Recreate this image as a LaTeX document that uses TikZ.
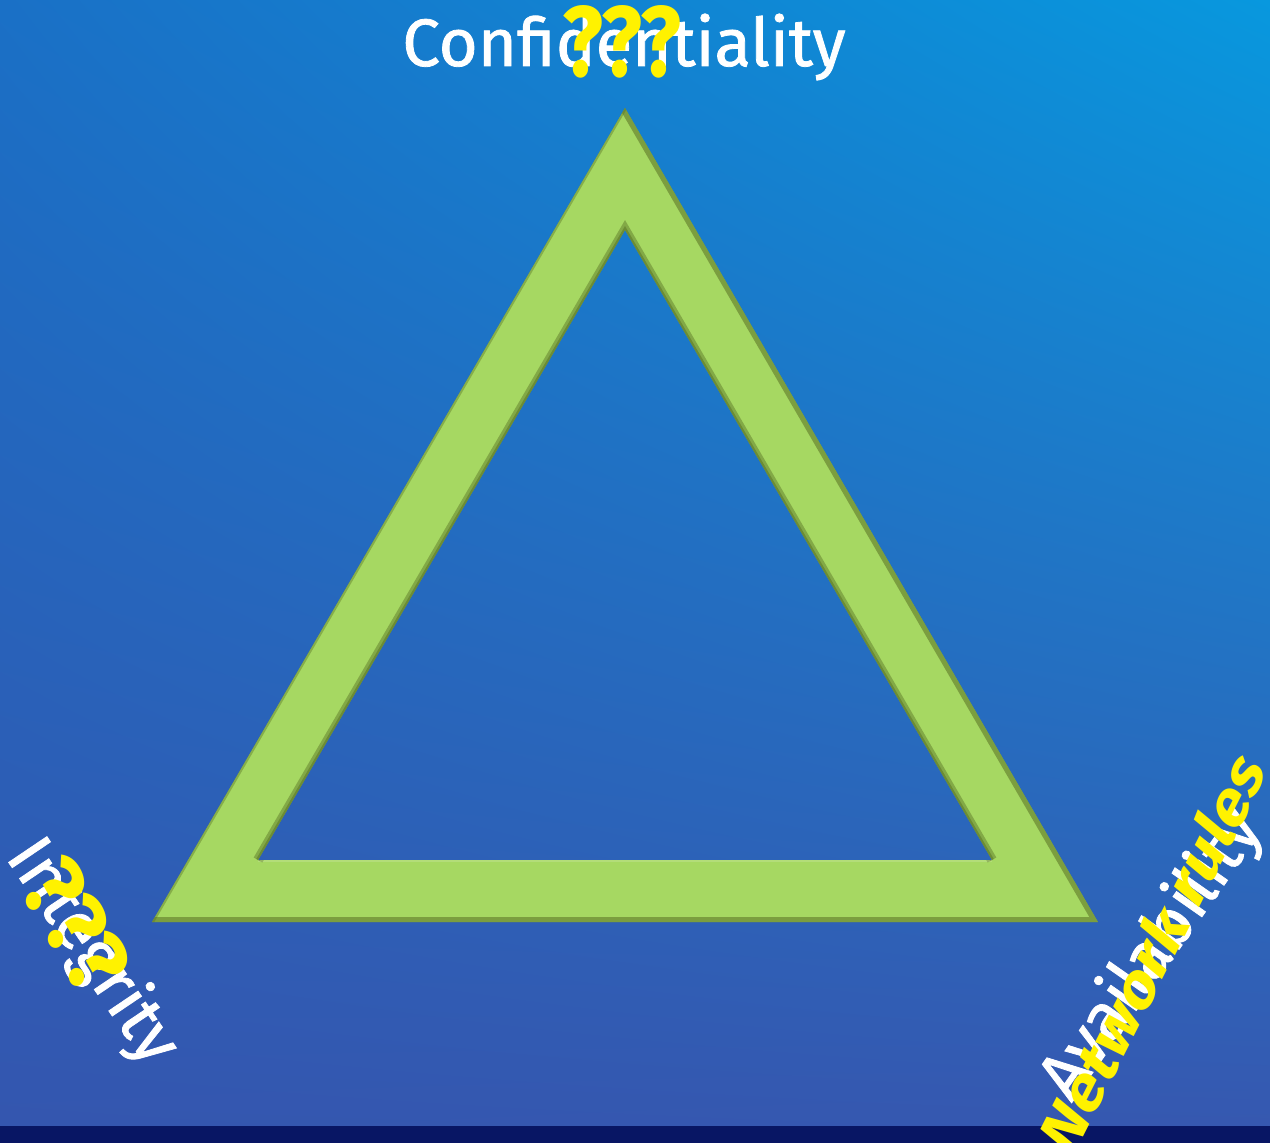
\documentclass[tikz,border=0pt]{standalone}
\usepackage{fontspec}
\setmainfont{Fira Sans}
\newfontfamily\labelfont[FakeBold=1.2]{Fira Sans}
\usetikzlibrary{shadings}
\begin{document}
\begin{tikzpicture}[x=1pt,y=-1pt,
  whitelabel/.style={text=white,font=\fontsize{67}{67}\labelfont,inner sep=0pt},
  yellowlabel/.style={text=yellow,font=\fontsize{100}{100}\selectfont\bfseries,inner sep=0pt}]
\definecolor{ringgreen}{RGB}{166,216,98}
\definecolor{ringdark}{RGB}{88,112,36}
\definecolor{navy}{RGB}{8,22,100}
\definecolor{bgul}{RGB}{26,112,198}
\definecolor{bgur}{RGB}{8,152,222}
\definecolor{bgll}{RGB}{52,86,175}
\definecolor{bglr}{RGB}{54,88,176}
\useasboundingbox (0,0) rectangle (1270,1143);
% background
\shade[upper left=bgul,upper right=bgur,lower left=bgll,lower right=bglr]
  (0,0) rectangle (1270,1126);
\fill[navy] (0,1126) rectangle (1270,1143);
% triangle corners
\coordinate (oa) at (625,108);
\coordinate (ol) at (152,922);
\coordinate (or) at (1098,922);
\coordinate (ia) at (625,230);
\coordinate (il) at (258,860);
\coordinate (ir) at (992,860);
% drop shadow
\fill[black,opacity=0.3,even odd rule,xshift=3pt,yshift=-5pt]
  (oa) -- (or) -- (ol) -- cycle (ia) -- (ir) -- (il) -- cycle;
% ring
\fill[ringgreen,even odd rule] (oa) -- (or) -- (ol) -- cycle (ia) -- (ir) -- (il) -- cycle;
% bevel edges
\begin{scope}[even odd rule]
  \clip (oa) -- (or) -- (ol) -- cycle (ia) -- (ir) -- (il) -- cycle;
  \draw[ringdark,line width=10pt,opacity=0.45] (il) -- (ia) -- (ir);
  \draw[ringdark,line width=4pt,opacity=0.5] (il) -- (ia) -- (ir);
  \draw[ringdark,line width=10pt,opacity=0.55] (oa) -- (or) -- (ol);
  \draw[ringdark,line width=4pt,opacity=0.4] (ol) -- (oa);
  \draw[white,line width=3pt,opacity=0.15] (il) -- (ir);
\end{scope}
% labels
\node[whitelabel] (conf) at (624,47) {Confidentiality};
\node[yellowlabel,xscale=0.85] (confq) at (622,42) {???};
\node[whitelabel,rotate=-56] (integ) at (92,952) {Integrity};
\node[yellowlabel,xscale=0.85,rotate=-56] (integq) at (76,926) {???};
\node[whitelabel,rotate=55] (avail) at (1152,955) {Availability};
\node[yellowlabel,font=\fontsize{72}{72}\selectfont\bfseries,xscale=0.78,rotate=57] (netw) at (1152,952) {Network rules};
\end{tikzpicture}
\end{document}
